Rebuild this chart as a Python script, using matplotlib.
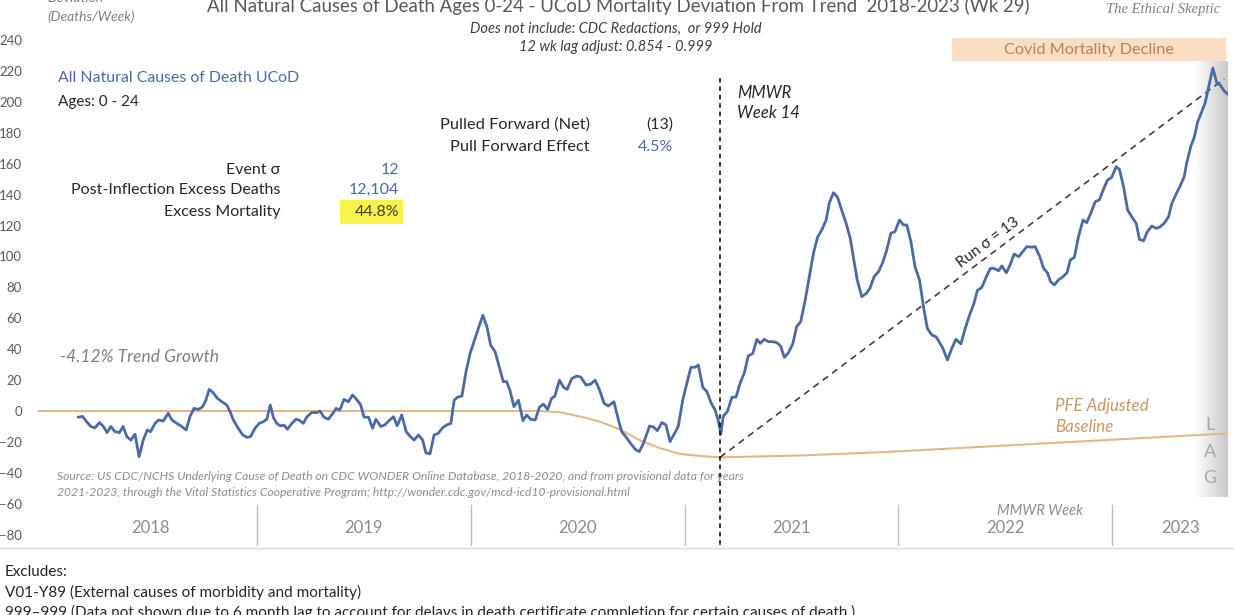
import numpy as np
import matplotlib
matplotlib.use("Agg")
import matplotlib.pyplot as plt
from matplotlib.patches import Rectangle
from matplotlib.lines import Line2D
from matplotlib.colors import LinearSegmentedColormap

plt.rcParams['font.family'] = ['Lato', 'DejaVu Sans']

# weeks counted from the start of 2018, values in deaths/week above trend
weeks = [8.6, 9.6, 10.6, 11.6, 12.6, 13.7, 14.7, 15.6, 16.5, 17.5, 18.6, 19.5, 20.4, 21.4, 22.4,
         23.4, 24.4, 25.4, 26.2, 27.3, 28.1, 29.3, 30.5, 31.4, 32.6, 33.8, 34.9, 35.8, 36.8, 37.9,
         38.9, 39.7, 40.5, 41.5, 42.5, 43.6, 44.8, 45.6, 46.4, 47.6, 48.7, 49.7, 50.6, 51.7, 52.7,
         53.7, 54.6, 55.4, 56.2, 57.0, 57.8, 58.8, 59.6, 60.7, 61.7, 62.5, 63.5, 64.3, 65.5, 66.8,
         67.6, 68.5, 69.6, 70.7, 71.5, 72.4, 73.4, 74.5, 75.5, 76.5, 77.5, 78.3, 79.4, 80.4, 81.2,
         82.4, 83.4, 84.5, 85.5, 86.4, 87.5, 88.6, 89.5, 90.5, 91.6, 92.6, 93.4, 94.4, 95.4, 96.4,
         97.5, 98.5, 99.5, 100.3, 101.1, 102.2, 103.2, 104.2, 105.4, 106.5, 107.3, 108.3, 109.2,
         110.3, 111.3, 112.3, 113.1, 113.9, 114.9, 116.0, 117.1, 118.0, 119.0, 120.1, 121.1, 122.1,
         123.1, 124.1, 124.9, 126.0, 127.0, 127.9, 129.0, 130.2, 131.2, 132.5, 133.7, 134.7, 135.8,
         136.9, 137.9, 139.3, 140.4, 141.2, 142.3, 143.4, 144.5, 145.5, 146.5, 148.0, 148.9, 149.9,
         151.0, 152.0, 153.0, 154.0, 155.0, 156.1, 157.1, 158.1, 159.1, 159.9, 161.0, 162.0, 163.0,
         164.0, 164.8, 165.4, 166.0, 167.0, 168.1, 169.1, 170.1, 171.1, 172.1, 173.2, 174.2, 175.0,
         176.0, 177.0, 178.1, 179.1, 180.0, 180.9, 181.9, 183.0, 183.9, 184.9, 186.0, 187.0, 188.0,
         189.0, 190.1, 191.1, 191.9, 192.9, 193.9, 194.9, 196.0, 197.0, 197.8, 198.7, 199.8, 200.9,
         201.8, 202.8, 203.9, 204.9, 205.9, 206.9, 207.9, 209.0, 210.0, 210.8, 211.8, 212.8, 213.9,
         214.9, 215.8, 216.9, 218.0, 219.6, 220.7, 221.8, 222.8, 224.0, 225.0, 226.1, 227.2, 228.0,
         229.1, 230.2, 231.2, 232.1, 233.2, 234.0, 235.1, 236.0, 237.0, 238.1, 239.1, 240.1, 241.3,
         242.1, 243.2, 244.2, 245.1, 245.9, 246.8, 247.8, 248.9, 249.9, 250.7, 251.7, 252.7, 253.8,
         254.7, 255.7, 256.8, 257.8, 258.8, 259.8, 260.8, 261.9, 262.7, 263.7, 264.7, 265.7, 266.8,
         267.6, 268.6, 269.5, 270.6, 271.7, 272.6, 273.6, 274.7, 275.5, 276.6, 277.5, 278.5, 279.1,
         280.1, 281.0, 281.8, 282.8, 283.6, 284.4, 285.5, 286.5, 287.3, 288.3, 289.2]
deviation = [-4, -3.5, -7, -10, -11, -7.5, -10, -14, -10, -13.4, -14, -10, -16.6, -18.8, -15,
             -29.6, -18.8, -12.3, -13.4, -8, -5.8, -6.5, -1.5, -5.8, -8, -10, -12.3, -3.7, 1.7, 1,
             2.8, 7, 14, 11.8, 8.2, 6, 3.9, -0.4, -5.8, -11.2, -15.5, -17, -16.6, -11.2, -8,
             -7, -5.3, 3.9, -4.3, -8, -9.6, -9.2, -11.8, -8, -5.3, -6, -8, -4, -1, -1,
             0, -4, -5.3, -1.5, 1.7, 0.6, 7.5, 6, 10.4, 7.5, 3.9, -4, -4, -11.2, -5.4,
             -10, -9, -6, -3.7, -9.6, -2.6, -13.4, -16.2, -18.8, -15.5, -18.8, -27, -27.8, -15.5, -14.5,
             -10.8, -9, -8, 7, 8.9, 9.7, 25.4, 37.3, 47, 55.7, 62, 54.6, 42.7,
             38.4, 28.7, 19, 19, 13.6, 2.8, 7, -6.3, -2.6, -5.4, -5.8, 2.4, 4.5,
             1, 8.2, 9.7, 20, 15.3, 14, 21, 22.6, 22, 16.8, 17.5, 20, 13.6,
             5, 3.2, 6, -5.8, -13.4, -17, -21, -24.8, -26.3, -21, -9.7, -10.3, -12.7,
             -7.5, -9, -19.8, -15, -10, 7, 17.9, 28.3, 28.3, 29.8, 15.3, 12.5, 5.4,
             0.6, -6.3, -15, -3.2, -0.4, 8.9, 9, 17.9, 24.4, 35.6, 37.3, 46.4, 43.8,
             46.4, 44.9, 44.9, 44.2, 42, 34.7, 37.7, 43.8, 54.6, 57.8, 71.8, 86.9, 102,
             112.4, 117.5, 123.6, 134.8, 141.3, 138.3, 130, 121.4, 111.7, 98.8, 84.8, 74, 76.1,
             79.4, 86.9, 90.2, 96, 104.2, 115, 116, 123.6, 120.4, 120.4, 109.6, 93.4, 84.8,
             67, 53.5, 49.2, 47.9, 40.6, 33, 40.6, 46.4, 43.4, 52.9, 62.1, 69.7, 77.9,
             80, 86.9, 92.3, 92.3, 90.8, 93.9, 89.5, 94.5, 101.6, 99.9, 103.1, 106.4, 106,
             106.4, 100.3, 92.3, 89.5, 83.7, 81.6, 84.8, 86.9, 89.5, 97.7, 99.5, 112.8, 123.6,
             121.9, 128, 135.5, 136.6, 143.5, 149.5, 151.2, 158.1, 156.4, 145.2, 130.1, 125.8, 121.4,
             111, 110.2, 116, 119.7, 118.2, 119.2, 121.4, 125.8, 134.4, 140.8, 145.6, 151.6, 160.3,
             171.1, 177.5, 187.2, 193.7, 199.2, 208.9, 222, 212, 211, 207, 205]

# PFE adjusted baseline
base_weeks = [-1.3, 121.3, 126.2, 129.3, 132.6, 135.9, 140.8, 145.7, 150.6, 155.4, 160.3,
              165.2, 184.8, 206.0, 230.4, 258.0, 289.2]
base_vals = [0, 0, -0.8, -2.6, -4.5, -6.9, -12, -19, -24.1, -27.8, -29.1,
             -30, -28.8, -26.5, -23, -19, -14.5]

# run line (Run sigma = 13)
run_weeks = [165.2, 288.3]
run_vals = [-30, 215]

years = ['2018', '2019', '2020', '2021', '2022', '2023']
weeks_per_year = 52.18
mmwr_week = 165.3
y_ticks = list(range(-80, 241, 20))

W, H = 1234, 615
fig = plt.figure(figsize=(W / 100, H / 100), dpi=100)

def fx(x):
    return x / W

def fy(y):
    return 1 - y / H

ax = fig.add_axes([fx(38), fy(534.6), (1228 - 38) / W, (534.6 - 40.2) / H])
ax.set_xlim(-1.28, 289.2)
ax.set_ylim(-80, 240)
for s in ax.spines.values():
    s.set_visible(False)
ax.set_xticks([])
ax.set_yticks(y_ticks)
ax.tick_params(axis='y', length=0, pad=11.5, labelsize=9.5, labelcolor='#595959')

gray = '#595959'
blue = '#4A6AA6'
tan = '#E2B787'
dark = '#262626'

# LAG gray band on the right
lag_cmap = LinearSegmentedColormap.from_list('lag', ['#FFFFFF', '#C8C8C8'])
grad = np.linspace(0, 1, 100).reshape(1, -1)
ax.imshow(grad, cmap=lag_cmap, extent=[281.2, 289.2, -55.7, 225.9], aspect='auto', zorder=0)

# covid mortality decline band
ax.add_patch(Rectangle((221.9, 226.5), 288.7 - 221.9, 14.9, facecolor='#FADDC3',
                       edgecolor='none', clip_on=False, zorder=1))
ax.text((221.9 + 288.7) / 2, 233.6, 'Covid Mortality Decline', ha='center', va='center',
        fontsize=11.7, color='#BC834F')

ax.plot(base_weeks, base_vals, color=tan, lw=1.5, zorder=2)
ax.plot(run_weeks, run_vals, color='#404040', lw=1.2, ls=(0, (4, 3)), zorder=2)
ax.plot(weeks, deviation, color=blue, lw=2.0, zorder=3)

# MMWR week 14 marker
ax.plot([mmwr_week, mmwr_week], [(411 - 78) / 1.545, -88.5], color='black', lw=1.1,
        ls=(0, (3, 2.5)), clip_on=False, zorder=4)

# run label rotated along the run line
p0 = ax.transData.transform((run_weeks[0], run_vals[0]))
p1 = ax.transData.transform((run_weeks[1], run_vals[1]))
ang = np.degrees(np.arctan2(p1[1] - p0[1], p1[0] - p0[0]))
ax.text(230.7, 109, 'Run σ = 13', rotation=ang, rotation_mode='anchor', ha='center',
        va='center', fontsize=11, color=dark)

# year separators and labels
for k in range(1, len(years)):
    ax.plot([k * weeks_per_year] * 2, [-60.8, -86.7], color='#BFBFBF', lw=1, clip_on=False)
for k, yr in enumerate(years):
    if k < len(years) - 1:
        xc = (k + 0.5) * weeks_per_year
    else:
        xc = 277.5
    ax.text(xc, -76, yr, ha='center', va='center', fontsize=12, color='#8C8C8C')

# figure level texts
fig.text(fx(47), fy(-2), 'Deviation', fontsize=10, style='italic', color='#7F7F7F', va='center')
fig.text(fx(47), fy(17), '(Deaths/Week)', fontsize=10, style='italic', color='#7F7F7F', va='center')
fig.text(fx(618), fy(6), 'All Natural Causes of Death Ages 0-24 - UCoD Mortality Deviation From Trend  2018-2023 (Wk 29)',
         fontsize=13.4, color='#595959', ha='center', va='center')
fig.text(fx(616), fy(29), 'Does not include: CDC Redactions,  or 999 Hold', fontsize=10.5,
         style='italic', color='#404040', ha='center', va='center')
fig.text(fx(616), fy(47), '12 wk lag adjust: 0.854 - 0.999', fontsize=10.5,
         style='italic', color='#404040', ha='center', va='center')
fig.text(fx(1163), fy(10), 'The Ethical Skeptic', fontsize=10.5, style='italic',
         family='Liberation Serif', color='#7F7F7F', ha='center', va='center')

fig.text(fx(58), fy(78), 'All Natural Causes of Death UCoD', fontsize=11.4, color=blue, va='center')
fig.text(fx(58), fy(102), 'Ages: 0 - 24', fontsize=11, color=dark, va='center')

fig.text(fx(590), fy(125), 'Pulled Forward (Net)', fontsize=11.8, color=dark, ha='right', va='center')
fig.text(fx(673), fy(125), '(13)', fontsize=11.5, color=dark, ha='right', va='center')
fig.text(fx(590), fy(147), 'Pull Forward Effect', fontsize=11.8, color=dark, ha='right', va='center')
fig.text(fx(673), fy(147), '4.5%', fontsize=11.5, color=blue, ha='right', va='center')

fig.patches.append(Rectangle((fx(340), fy(224)), (403 - 340) / W, 24 / H, facecolor='#F6F24A',
                             edgecolor='none', transform=fig.transFigure, zorder=0))
fig.text(fx(280), fy(170), 'Event σ', fontsize=11.5, color=dark, ha='right', va='center')
fig.text(fx(399), fy(170), '12', fontsize=11.5, color=blue, ha='right', va='center')
fig.text(fx(280), fy(190), 'Post-Inflection Excess Deaths', fontsize=11.5, color=dark, ha='right', va='center')
fig.text(fx(399), fy(190), '12,104', fontsize=11.5, color=blue, ha='right', va='center')
fig.text(fx(280), fy(212), 'Excess Mortality', fontsize=11.5, color=dark, ha='right', va='center')
fig.text(fx(399), fy(212), '44.8%', fontsize=11.5, color='#404040', ha='right', va='center')

fig.text(fx(737), fy(93), 'MMWR', fontsize=12, style='italic', color=dark, va='center')
fig.text(fx(737), fy(113), 'Week 14', fontsize=12, style='italic', color=dark, va='center')

fig.text(fx(60), fy(357), '-4.12% Trend Growth', fontsize=12.5, style='italic', color='#7F7F7F', va='center')
fig.text(fx(1055), fy(406), 'PFE Adjusted', fontsize=12.2, style='italic', color='#C99662', va='center')
fig.text(fx(1055), fy(427), 'Baseline', fontsize=12.2, style='italic', color='#C99662', va='center')
for ch, yy in zip('LAG', [425, 452, 478]):
    fig.text(fx(1210), fy(yy), ch, fontsize=13, color='#A6A6A6', ha='center', va='center')

fig.text(fx(57), fy(477), 'Source: US CDC/NCHS Underlying Cause of Death on CDC WONDER Online Database, 2018-2020, and from provisional data for years',
         fontsize=8.7, style='italic', color='#8C8C8C', va='center')
fig.text(fx(57), fy(493), '2021-2023, through the Vital Statistics Cooperative Program; http://wonder.cdc.gov/mcd-icd10-provisional.html',
         fontsize=8.7, style='italic', color='#8C8C8C', va='center')
fig.text(fx(997), fy(511), 'MMWR Week', fontsize=10.5, style='italic', color='#8C8C8C', va='center')

fig.add_artist(Line2D([0, 1], [fy(548), fy(548)], color='#D9D9D9', lw=1, transform=fig.transFigure))
fig.text(fx(5), fy(572), 'Excludes:', fontsize=11, color=dark, va='center')
fig.text(fx(5), fy(592), 'V01-Y89 (External causes of morbidity and mortality)', fontsize=11, color=dark, va='center')
fig.text(fx(5), fy(612), '999–999 (Data not shown due to 6 month lag to account for delays in death certificate completion for certain causes of death.)',
         fontsize=11, color=dark, va='center')

fig.savefig('out.png', dpi=100)
